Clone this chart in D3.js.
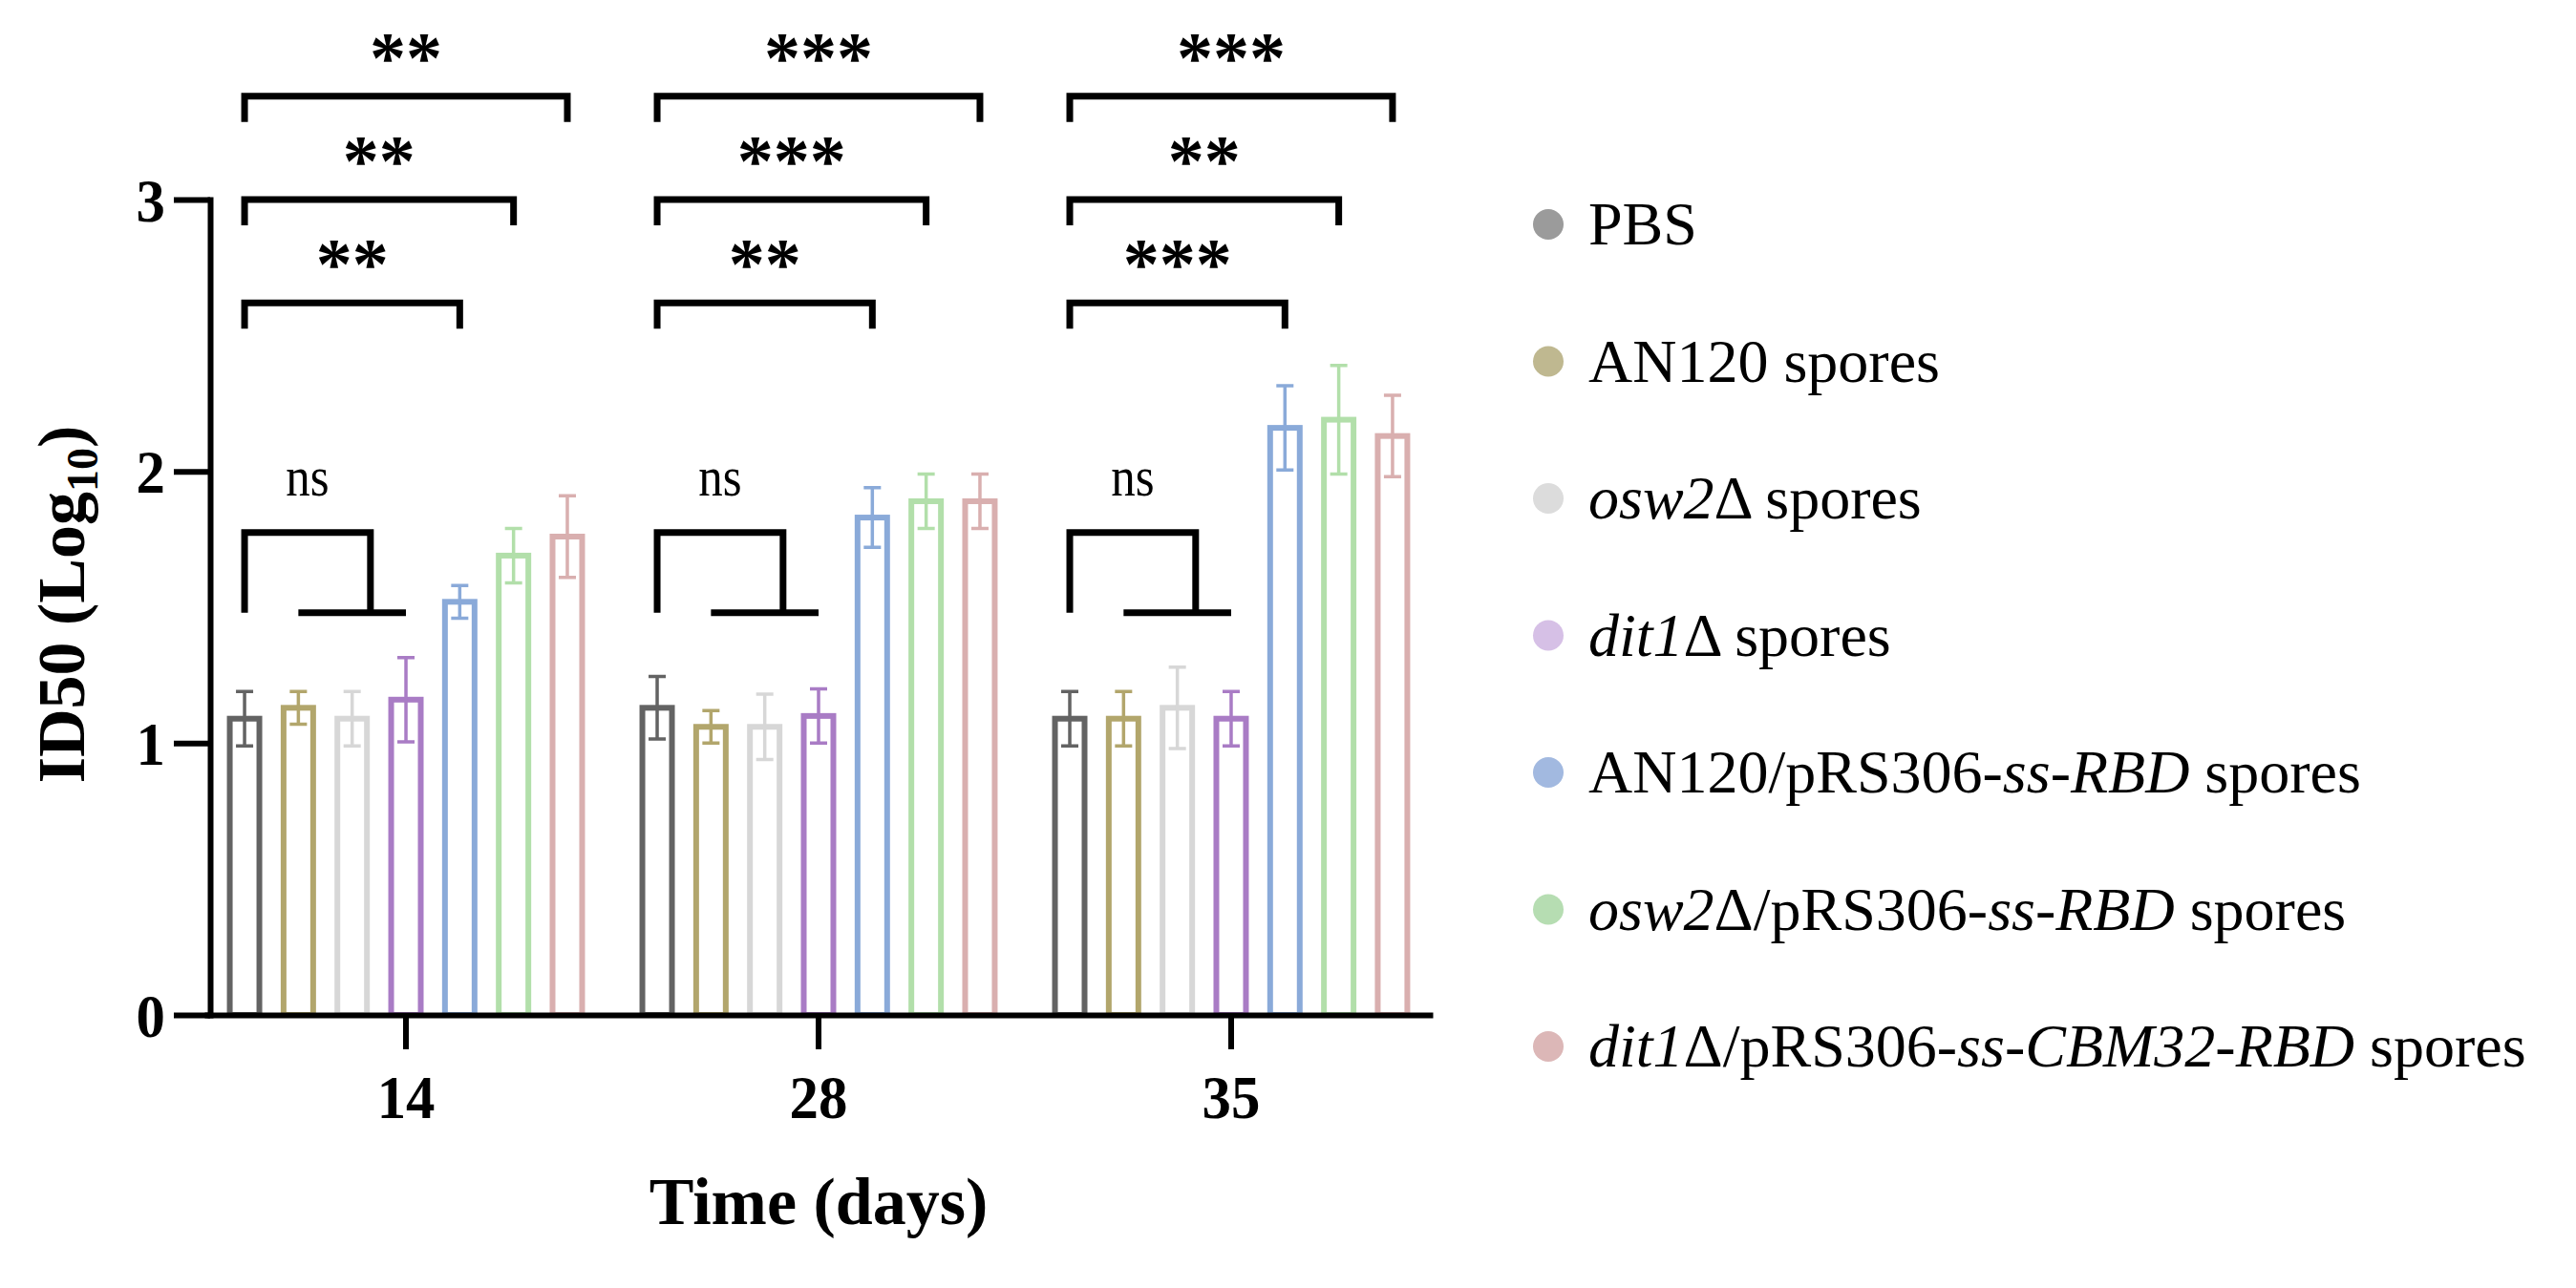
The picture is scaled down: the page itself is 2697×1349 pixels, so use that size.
<!DOCTYPE html>
<html><head><meta charset="utf-8">
<script src="https://cdn.jsdelivr.net/npm/d3@7"></script>
<style>body{margin:0;background:#fff} svg{display:block}</style>
</head><body>
<svg id="chart" width="2697" height="1349"></svg>
<script>
// ---------- data ----------
const days = ["14", "28", "35"];
const seriesKeys = ["PBS", "AN120", "osw2", "dit1", "AN120_RBD", "osw2_RBD", "dit1_CBM32_RBD"];
const meanPBS = [1.09, 1.13, 1.09];
const meanAN120 = [1.13, 1.06, 1.09];
const meanOsw2 = [1.09, 1.06, 1.13];
const meanDit1 = [1.16, 1.10, 1.09];
const meanAN120RBD = [1.52, 1.83, 2.16];
const meanOsw2RBD = [1.69, 1.89, 2.19];
const meanDit1CBM = [1.76, 1.89, 2.13];
const sdPBS = [0.10, 0.115, 0.10];
const sdAN120 = [0.06, 0.06, 0.10];
const sdOsw2 = [0.10, 0.12, 0.15];
const sdDit1 = [0.155, 0.10, 0.10];
const sdAN120RBD = [0.06, 0.11, 0.155];
const sdOsw2RBD = [0.10, 0.10, 0.20];
const sdDit1CBM = [0.15, 0.10, 0.15];
const yTicks = [0, 1, 2, 3];
// significance: PBS vs [AN120_RBD, osw2_RBD, dit1_CBM32_RBD]
const sigTargets = ["AN120_RBD", "osw2_RBD", "dit1_CBM32_RBD"];
const sigLevels = [2.62, 3.00, 3.38];
const sigDay14 = ["**", "**", "**"];
const sigDay28 = ["**", "***", "***"];
const sigDay35 = ["***", "**", "***"];
const nsGroup = ["AN120", "osw2", "dit1"];
const nsLevels = [1.775, 1.48];   // top line, bottom line
const nsLabelLevel = 1.96;
// legend labels: segments [text, italic]
const legendLabels = [
  [["PBS", false]],
  [["AN120 spores", false]],
  [["osw2", true], ["\u0394 spores", false]],
  [["dit1", true], ["\u0394 spores", false]],
  [["AN120/pRS306-", false], ["ss", true], ["-", false], ["RBD", true], [" spores", false]],
  [["osw2", true], ["\u0394/pRS306-", false], ["ss", true], ["-", false], ["RBD", true], [" spores", false]],
  [["dit1", true], ["\u0394/pRS306-", false], ["ss", true], ["-", false], ["CBM32", true], ["-", false], ["RBD", true], [" spores", false]]
];

// ---------- styles ----------
const barColors = ["#636363", "#b2a66c", "#d7d7d7", "#a97cc5", "#8aaad9", "#b2dfaa", "#d9afaf"];
const dotColors = ["#9b9b9b", "#bfb890", "#dcdcdc", "#d6c0e6", "#a2b9e0", "#b6ddb2", "#dcb7b7"];
const serif = "'Liberation Serif','Times New Roman',serif";

const means = [meanPBS, meanAN120, meanOsw2, meanDit1, meanAN120RBD, meanOsw2RBD, meanDit1CBM];
const sds = [sdPBS, sdAN120, sdOsw2, sdDit1, sdAN120RBD, sdOsw2RBD, sdDit1CBM];
const rows = [];
days.forEach((d, di) => seriesKeys.forEach((s, si) => rows.push({day: d, key: s, idx: si, mean: means[si][di], sd: sds[si][di]})));

const svg = d3.select("#chart");
const y = d3.scaleLinear().domain([0, 3]).range([1063, 209]);
const x0 = d3.scaleBand().domain(days).range([214, 1500]).paddingInner(0.146).paddingOuter(0.0615);
const x1 = d3.scaleBand().domain(seriesKeys).range([0, x0.bandwidth()]).paddingInner(0.45);
const cx = (d, s) => x0(d) + x1(s) + x1.bandwidth() / 2;
const axisX = 220;

// ---------- bars ----------
const bars = svg.append("g");
bars.selectAll("rect").data(rows).join("rect")
  .attr("x", r => x0(r.day) + x1(r.key))
  .attr("y", r => y(r.mean))
  .attr("width", x1.bandwidth())
  .attr("height", r => y(0) - y(r.mean))
  .attr("fill", "#fff")
  .attr("stroke", r => barColors[r.idx])
  .attr("stroke-width", 6);

// error bars
const capW = 9;
const eb = svg.append("g").attr("fill", "none").attr("stroke-width", 3.5);
eb.selectAll("path").data(rows).join("path")
  .attr("stroke", r => barColors[r.idx])
  .attr("d", r => {
    const c = cx(r.day, r.key), t = y(r.mean + r.sd), b = y(r.mean - r.sd);
    return `M${c},${t}V${b}M${c - capW},${t}H${c + capW}M${c - capW},${b}H${c + capW}`;
  });

// ---------- axes ----------
const yAxis = svg.append("g").attr("transform", `translate(${axisX},0)`)
  .call(d3.axisLeft(y).tickValues(yTicks).tickFormat(d3.format("d")).tickSize(38).tickSizeOuter(0));
yAxis.select(".domain").attr("stroke-width", 6).attr("stroke-linecap", "square");
yAxis.selectAll(".tick line").attr("stroke-width", 6);
yAxis.selectAll(".tick text")
  .attr("x", null).attr("dy", null)
  .attr("transform", "translate(-47,22) scale(0.95,1)")
  .attr("font-family", serif).attr("font-weight", "bold").attr("font-size", 64).attr("fill", "#000");

const xAxis = svg.append("g").attr("transform", `translate(0,${y(0)})`)
  .call(d3.axisBottom(x0).tickSize(36).tickSizeOuter(0));
xAxis.select(".domain").attr("stroke-width", 6);
xAxis.selectAll(".tick line").attr("stroke-width", 6);
xAxis.selectAll(".tick text")
  .attr("y", null).attr("dy", null)
  .attr("transform", "translate(0,108) scale(0.95,1)")
  .attr("font-family", serif).attr("font-weight", "bold").attr("font-size", 64).attr("fill", "#000");

// axis titles
svg.append("text")
  .attr("transform", `translate(${x0("28") + x0.bandwidth() / 2},1282)`)
  .attr("text-anchor", "middle").attr("font-family", serif).attr("font-weight", "bold").attr("font-size", 70)
  .text("Time (days)");
const yt = svg.append("text")
  .attr("transform", "translate(88,633) rotate(-90)")
  .attr("text-anchor", "middle").attr("font-family", serif).attr("font-weight", "bold").attr("font-size", 70);
yt.append("tspan").text("ID50 (Log");
yt.append("tspan").attr("font-size", 46).attr("dy", 14).text("10");
yt.append("tspan").attr("dy", -14).text(")");

// ---------- significance brackets ----------
const sigByDay = {"14": sigDay14, "28": sigDay28, "35": sigDay35};
const drop = 27;
const brk = svg.append("g");
days.forEach(d => {
  sigTargets.forEach((t, k) => {
    const xl = cx(d, "PBS"), xr = cx(d, t), yl = y(sigLevels[k]);
    brk.append("path").attr("fill", "none").attr("stroke", "#000").attr("stroke-width", 7)
      .attr("d", `M${xl},${yl + drop}V${yl}H${xr}V${yl + drop}`);
    brk.append("text").attr("x", (xl + xr) / 2).attr("y", yl - 15)
      .attr("text-anchor", "middle").attr("font-family", serif).attr("font-weight", "bold").attr("font-size", 76)
      .text(sigByDay[d][k]);
  });
  // ns bracket
  const xl = cx(d, "PBS"), xa = cx(d, nsGroup[0]), xb = cx(d, nsGroup[2]);
  const xv = xa + (xb - xa) * 0.67, yT = y(nsLevels[0]), yB = y(nsLevels[1]);
  brk.append("path").attr("fill", "none").attr("stroke", "#000").attr("stroke-width", 7)
    .attr("d", `M${xl},${yB}V${yT}H${xv}V${yB}M${xa},${yB}H${xb}`);
  brk.append("text")
    .attr("transform", `translate(${(xl + xv) / 2},${y(nsLabelLevel) + 14}) scale(0.85,1)`)
    .attr("text-anchor", "middle").attr("font-family", serif).attr("font-size", 60).text("ns");
});

// ---------- legend ----------
const leg = svg.append("g").attr("transform", "translate(1621,235)");
const items = leg.selectAll("g").data(legendLabels).join("g")
  .attr("transform", (d, i) => `translate(0,${i * 143.5})`);
items.append("circle").attr("r", 16).attr("fill", (d, i) => dotColors[i]);
items.append("text").attr("x", 42).attr("y", 21)
  .attr("font-family", serif).attr("font-size", 64).attr("fill", "#000")
  .each(function(segs) {
    const t = d3.select(this);
    segs.forEach(([s, it]) => t.append("tspan").attr("font-style", it ? "italic" : "normal").text(s));
  });
</script>
</body></html>
